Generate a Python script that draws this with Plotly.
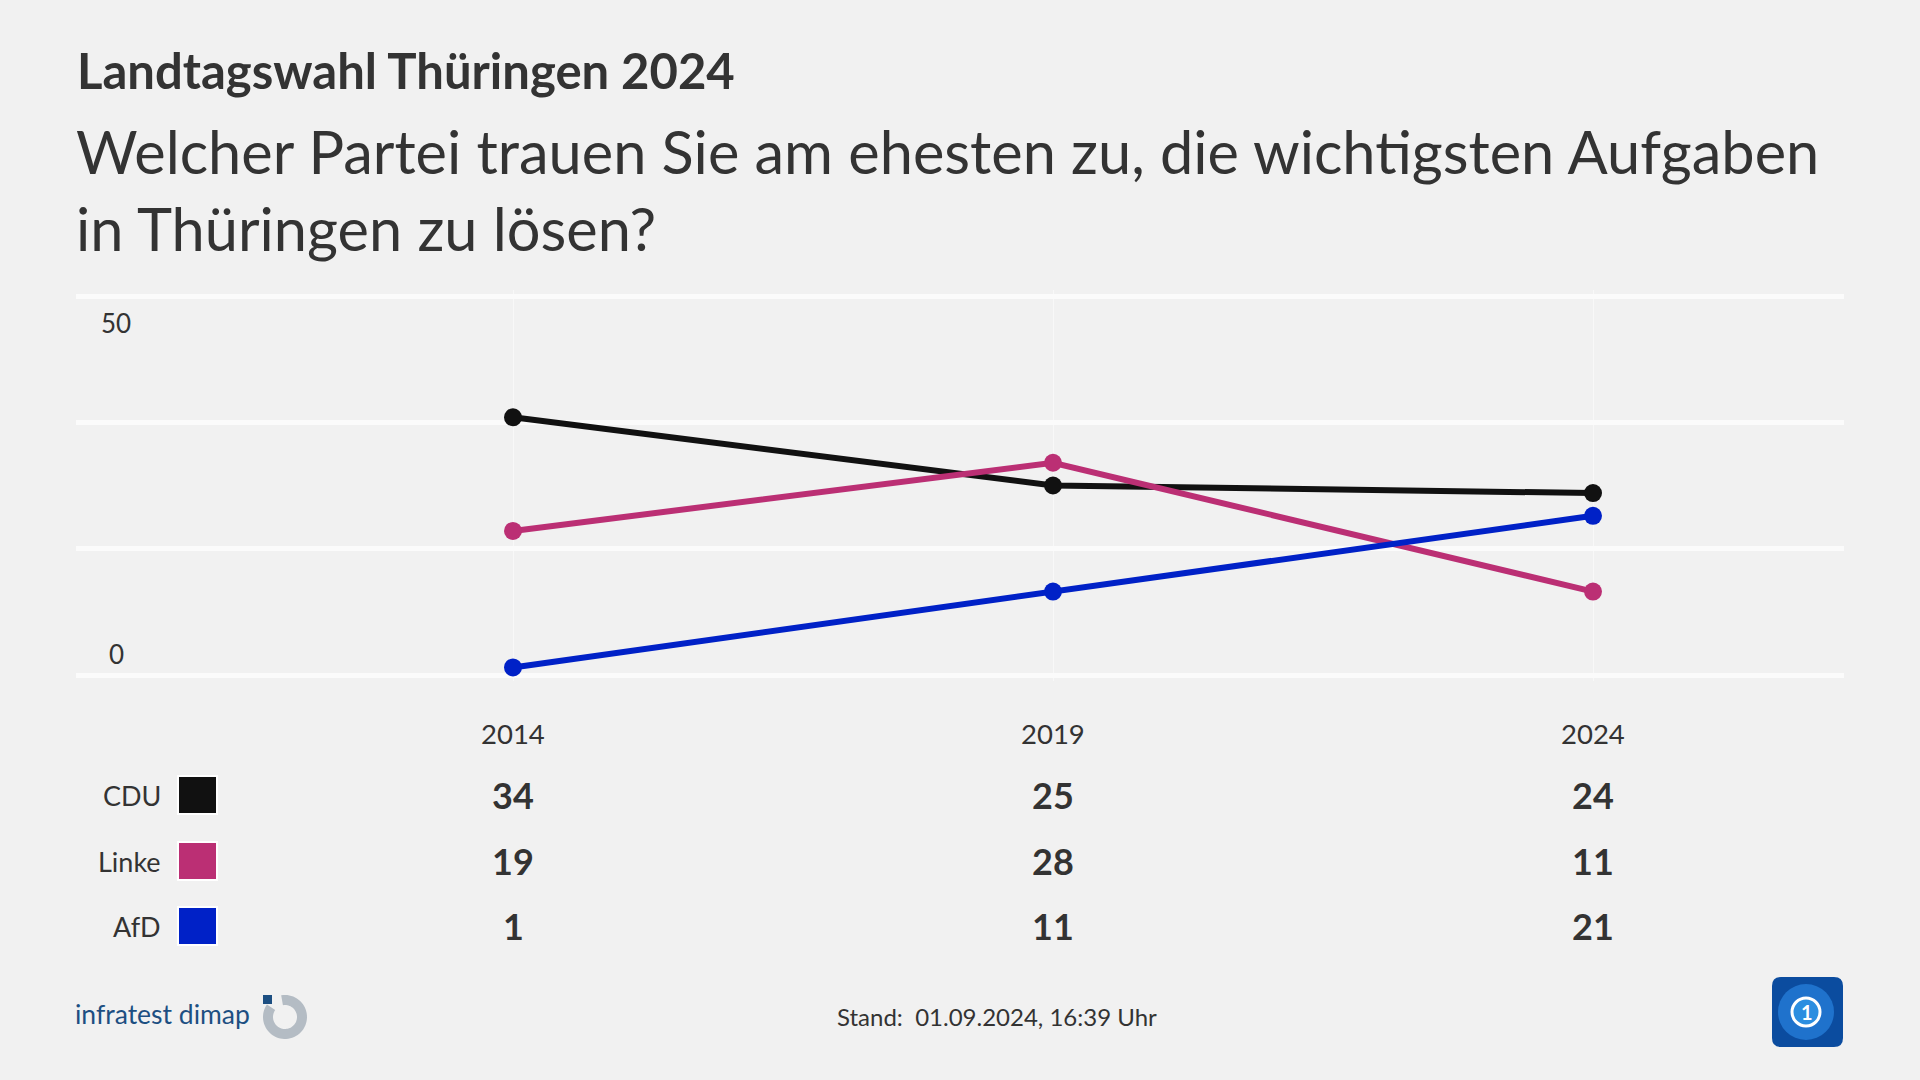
import numpy as np
import plotly.graph_objects as go

# ---------------- data ----------------
years = [2014, 2019, 2024]
parties = ["CDU", "Linke", "AfD"]
cdu = [34, 25, 24]
linke = [19, 28, 11]
afd = [1, 11, 21]
colors = ["#111111", "#bb2f74", "#0021c7"]
series = [cdu, linke, afd]

title = "Landtagswahl Thüringen 2024"
subtitle_1 = "Welcher Partei trauen Sie am ehesten zu, die wichtigsten Aufgaben"
subtitle_2 = "in Thüringen zu lösen?"
stand = "Stand:  01.09.2024, 16:39 Uhr"
source = "infratest dimap"

W, H = 1920, 1080
BG = "#f1f1f1"
TXT = "#333333"
FONT = "Lato"


def px(x):
    return x / W


def py(y):
    return 1 - y / H


fig = go.Figure()

for name, vals, col in zip(parties, series, colors):
    fig.add_trace(go.Scatter(
        x=years, y=vals, name=name, mode="lines+markers",
        line=dict(color=col, width=6),
        marker=dict(color=col, size=18),
        showlegend=False, hoverinfo="x+y+name",
    ))

# plot area: x 76..1844 px, y 290..681 px
x0, x1 = 76, 1844
xp2014, xp2024 = 513, 1593
ppy = (xp2024 - xp2014) / (years[-1] - years[0])
xr = [years[0] - (xp2014 - x0) / ppy, years[-1] + (x1 - xp2024) / ppy]
ytop_px, ybot_px = 290, 681
g50, g0 = 296, 675
ppu = (g0 - g50) / 50
yr = [0 - (ybot_px - g0) / ppu, 50 + (g50 - ytop_px) / ppu]

fig.update_layout(
    width=W, height=H,
    margin=dict(l=0, r=0, t=0, b=0),
    paper_bgcolor=BG, plot_bgcolor=BG,
    font=dict(family=FONT, color=TXT),
    xaxis=dict(domain=[px(x0), px(x1)], range=xr, showgrid=True,
               gridcolor="#f8f8f8", gridwidth=1, tickvals=years,
               showticklabels=False, zeroline=False, showline=False),
    yaxis=dict(domain=[py(ybot_px), py(ytop_px)], range=yr, showgrid=True,
               gridcolor="#fbfbfb", gridwidth=5,
               tickvals=[0, 50 / 3, 100 / 3, 50],
               showticklabels=False, zeroline=False, showline=False),
)

ann = []
ann.append(dict(text="<b>" + title + "</b>", x=px(75), y=py(70), xref="paper", yref="paper",
                xanchor="left", yanchor="middle", showarrow=False,
                font=dict(size=49, color=TXT, family=FONT)))
ann.append(dict(text=subtitle_1, x=px(74), y=py(151), xref="paper", yref="paper",
                xanchor="left", yanchor="middle", showarrow=False,
                font=dict(size=59.5, color=TXT, family=FONT)))
ann.append(dict(text=subtitle_2, x=px(74), y=py(228), xref="paper", yref="paper",
                xanchor="left", yanchor="middle", showarrow=False,
                font=dict(size=59.5, color=TXT, family=FONT)))
# y tick labels
ann.append(dict(text="50", x=px(116), y=py(323), xref="paper", yref="paper",
                xanchor="center", yanchor="middle", showarrow=False,
                font=dict(size=26, color=TXT, family=FONT)))
ann.append(dict(text="0", x=px(116), y=py(654), xref="paper", yref="paper",
                xanchor="center", yanchor="middle", showarrow=False,
                font=dict(size=26, color=TXT, family=FONT)))
# year labels
for yv in years:
    ann.append(dict(text=str(yv), x=yv, y=py(733), xref="x", yref="paper",
                    xanchor="center", yanchor="middle", showarrow=False,
                    font=dict(size=27.5, color=TXT, family=FONT)))

row_y = [795, 861, 926]
shapes = []
for name, vals, col, ry in zip(parties, series, colors, row_y):
    ann.append(dict(text=name, x=px(163), y=py(ry), xref="paper", yref="paper",
                    xanchor="right", yanchor="middle", showarrow=False,
                    font=dict(size=27, color=TXT, family=FONT)))
    shapes.append(dict(type="rect", xref="paper", yref="paper",
                       x0=px(178), x1=px(217), y0=py(ry + 19), y1=py(ry - 19),
                       fillcolor=col, line=dict(color="#ffffff", width=2)))
    for yv, v in zip(years, vals):
        ann.append(dict(text="<b>%d</b>" % v, x=yv, y=py(ry), xref="x", yref="paper",
                        xanchor="center", yanchor="middle", showarrow=False,
                        font=dict(size=36, color=TXT, family=FONT)))

# footer
ann.append(dict(text=stand, x=px(997), y=py(1016), xref="paper", yref="paper",
                xanchor="center", yanchor="middle", showarrow=False,
                font=dict(size=24, color=TXT, family=FONT)))
ann.append(dict(text=source, x=px(73), y=py(1014), xref="paper", yref="paper",
                xanchor="left", yanchor="middle", showarrow=False,
                font=dict(size=26.5, color="#1d4f82", family=FONT)))


# infratest icon: gray ring with opening top-left + blue square
def poly_path(pts):
    s = "M %f,%f " % (px(pts[0][0]), py(pts[0][1]))
    for (a, b) in pts[1:]:
        s += "L %f,%f " % (px(a), py(b))
    return s + "Z"


cx, cy, ro, ri = 285, 1017, 22, 12
ang = np.linspace(np.deg2rad(100), np.deg2rad(-215), 60)
outer = [(cx + ro * np.cos(a), cy - ro * np.sin(a)) for a in ang]
inner = [(cx + ri * np.cos(a), cy - ri * np.sin(a)) for a in ang[::-1]]
shapes.append(dict(type="path", xref="paper", yref="paper", path=poly_path(outer + inner),
                   fillcolor="#b4bcc4", line=dict(width=0)))
shapes.append(dict(type="rect", xref="paper", yref="paper", x0=px(263), x1=px(272),
                   y0=py(1004), y1=py(995), fillcolor="#1d4f82", line=dict(width=0)))

# tagesschau logo
lx0, lx1, ly0, ly1, rr = 1772, 1843, 977, 1047, 9
p = ("M %f,%f L %f,%f Q %f,%f %f,%f L %f,%f Q %f,%f %f,%f L %f,%f Q %f,%f %f,%f L %f,%f Q %f,%f %f,%f Z" % (
    px(lx0 + rr), py(ly0), px(lx1 - rr), py(ly0), px(lx1), py(ly0), px(lx1), py(ly0 + rr),
    px(lx1), py(ly1 - rr), px(lx1), py(ly1), px(lx1 - rr), py(ly1),
    px(lx0 + rr), py(ly1), px(lx0), py(ly1), px(lx0), py(ly1 - rr),
    px(lx0), py(ly0 + rr), px(lx0), py(ly0), px(lx0 + rr), py(ly0)))
shapes.append(dict(type="path", xref="paper", yref="paper", path=p,
                   fillcolor="#0b4c9f", line=dict(width=0)))
gx, gy = 1806, 1012
shapes.append(dict(type="circle", xref="paper", yref="paper", x0=px(gx - 28), x1=px(gx + 28),
                   y0=py(gy + 28), y1=py(gy - 28), fillcolor="#1f72cc", line=dict(width=0)))
shapes.append(dict(type="circle", xref="paper", yref="paper", x0=px(gx - 14), x1=px(gx + 14),
                   y0=py(gy + 14), y1=py(gy - 14), fillcolor="#2c8ee0",
                   line=dict(color="#ffffff", width=3)))
ann.append(dict(text="<b>1</b>", x=px(gx + 1), y=py(gy), xref="paper", yref="paper",
                xanchor="center", yanchor="middle", showarrow=False,
                font=dict(size=20, color="#ffffff", family=FONT)))

fig.update_layout(annotations=ann, shapes=shapes)

fig.write_html("out.html", config={"displayModeBar": False},
               post_script="document.body.style.margin='0';")
